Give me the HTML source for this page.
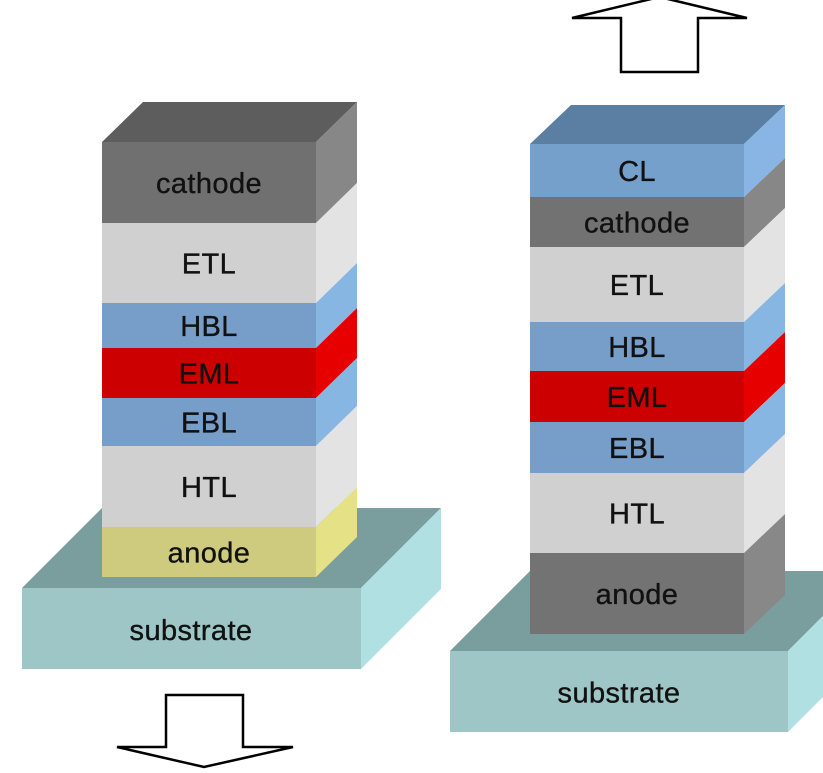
<!DOCTYPE html>
<html>
<head>
<meta charset="utf-8">
<style>
html,body{margin:0;padding:0;background:#fff;}
svg{display:block;}
text{font-family:"Liberation Sans",Arial,sans-serif;font-size:29px;fill:#111;stroke:#111;stroke-width:0.35px;letter-spacing:0.4px;text-anchor:middle;}
</style>
</head>
<body>
<svg width="823" height="773" viewBox="0 0 823 773" xmlns="http://www.w3.org/2000/svg">
  <rect width="823" height="773" fill="#fff"/>

  <!-- LEFT SUBSTRATE -->
  <polygon points="22,588 102,508 441,508 361,588" fill="#7a9e9e"/>
  <polygon points="361,588 441,508 441,589 361,669" fill="#b1e0e2"/>
  <rect x="22" y="588" width="339" height="81" fill="#9ec6c7"/>
  <text x="191" y="640">substrate</text>

  <!-- LEFT STACK -->
  <polygon points="102,142 143,102 357,102 316,142" fill="#5d5d5d"/>
  <rect x="102" y="142" width="214" height="81" fill="#707070"/>
  <polygon points="316,142 357,102 357,183 316,223" fill="#878787"/>
  <rect x="102" y="223" width="214" height="80" fill="#d0d0d0"/>
  <polygon points="316,223 357,183 357,263 316,303" fill="#e3e3e3"/>
  <rect x="102" y="303" width="214" height="45" fill="#769ec9"/>
  <polygon points="316,303 357,263 357,308 316,348" fill="#88b6e3"/>
  <rect x="102" y="348" width="214" height="50" fill="#cc0000"/>
  <polygon points="316,348 357,308 357,358 316,398" fill="#e60000"/>
  <rect x="102" y="398" width="214" height="48" fill="#769ec9"/>
  <polygon points="316,398 357,358 357,406 316,446" fill="#88b6e3"/>
  <rect x="102" y="446" width="214" height="81" fill="#d0d0d0"/>
  <polygon points="316,446 357,406 357,487 316,527" fill="#e3e3e3"/>
  <rect x="102" y="527" width="214" height="50" fill="#cfcb7e"/>
  <polygon points="316,527 357,487 357,537 316,577" fill="#e5e186"/>

  <text x="209" y="193">cathode</text>
  <text x="209" y="273.5">ETL</text>
  <text x="209" y="336">HBL</text>
  <text x="209" y="383.5">EML</text>
  <text x="209" y="432.5">EBL</text>
  <text x="209" y="497">HTL</text>
  <text x="209" y="562.5">anode</text>

  <!-- RIGHT SUBSTRATE -->
  <polygon points="450,651 530,571 868,571 788,651" fill="#7a9e9e"/>
  <polygon points="788,651 868,571 868,652 788,732" fill="#b1e0e2"/>
  <rect x="450" y="651" width="338" height="81" fill="#9ec6c7"/>
  <text x="619" y="702.5">substrate</text>

  <!-- RIGHT STACK -->
  <polygon points="530,144 571,105 785,105 744,144" fill="#5b7fa2"/>
  <rect x="530" y="144" width="214" height="53" fill="#76a0cc"/>
  <polygon points="744,144 785,105 785,158 744,197" fill="#88b5e4"/>
  <rect x="530" y="197" width="214" height="50" fill="#727272"/>
  <polygon points="744,197 785,158 785,208 744,247" fill="#878787"/>
  <rect x="530" y="247" width="214" height="75" fill="#d0d0d0"/>
  <polygon points="744,247 785,208 785,283 744,322" fill="#e3e3e3"/>
  <rect x="530" y="322" width="214" height="49" fill="#769ec9"/>
  <polygon points="744,322 785,283 785,332 744,371" fill="#88b6e3"/>
  <rect x="530" y="371" width="214" height="51" fill="#cc0000"/>
  <polygon points="744,371 785,332 785,383 744,422" fill="#e60000"/>
  <rect x="530" y="422" width="214" height="51" fill="#769ec9"/>
  <polygon points="744,422 785,383 785,434 744,473" fill="#88b6e3"/>
  <rect x="530" y="473" width="214" height="80" fill="#d0d0d0"/>
  <polygon points="744,473 785,434 785,514 744,553" fill="#e3e3e3"/>
  <rect x="530" y="553" width="214" height="81" fill="#737373"/>
  <polygon points="744,553 785,514 785,595 744,634" fill="#888888"/>

  <text x="637" y="181">CL</text>
  <text x="637" y="232.5">cathode</text>
  <text x="637" y="295">ETL</text>
  <text x="637" y="357">HBL</text>
  <text x="637" y="407">EML</text>
  <text x="637" y="458">EBL</text>
  <text x="637" y="523.5">HTL</text>
  <text x="637" y="604">anode</text>

  <!-- ARROWS -->
  <polygon points="166,695 243,695 243,747 293,747 204,767 117,747 166,747" fill="#fff" stroke="#000" stroke-width="2.5" stroke-linejoin="miter"/>
  <polygon points="621,72 698,72 698,18 747,18 659.5,-3 572,18 621,18" fill="#fff" stroke="#000" stroke-width="2.5" stroke-linejoin="miter"/>
</svg>
</body>
</html>
